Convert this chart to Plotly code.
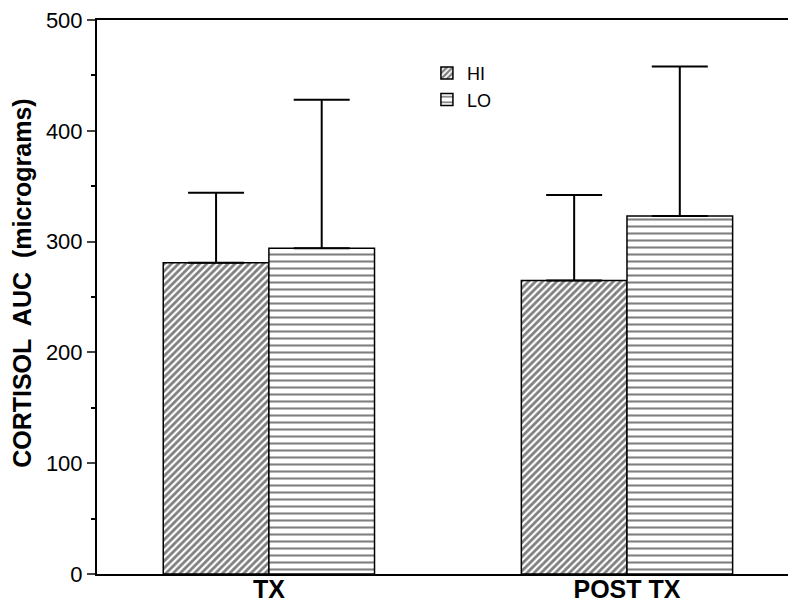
import plotly.graph_objects as go

categories = ["TX", "POST TX"]
hi_values = [281, 265]
lo_values = [294, 323]
hi_err = [63, 77]
lo_err = [134, 135]
y_ticks = [0, 100, 200, 300, 400, 500]

fig = go.Figure()
fig.add_trace(go.Bar(
    name="HI", x=categories, y=hi_values,
    marker=dict(color="white", line=dict(color="black", width=1.5),
                pattern=dict(shape="/", fgcolor="black", bgcolor="white", size=5, solidity=0.55)),
    error_y=dict(type="data", array=hi_err, arrayminus=[0, 0], symmetric=False,
                 color="black", thickness=2, width=28),
))
fig.add_trace(go.Bar(
    name="LO", x=categories, y=lo_values,
    marker=dict(color="white", line=dict(color="black", width=1.5),
                pattern=dict(shape="-", fgcolor="black", bgcolor="white", size=7, solidity=0.3)),
    error_y=dict(type="data", array=lo_err, arrayminus=[0, 0], symmetric=False,
                 color="black", thickness=2, width=28),
))

# page body adds an 8px margin; figure is sized/margined to compensate
fig.update_layout(
    width=788, height=597,
    margin=dict(l=89, r=0, t=12, b=31, autoexpand=False),
    paper_bgcolor="white", plot_bgcolor="white",
    barmode="group", bargap=0.41, bargroupgap=0,
    font=dict(family="Arial, Liberation Sans, sans-serif", color="black"),
    showlegend=True,
    legend=dict(x=0.472, y=0.937, xanchor="left", yanchor="top",
                bgcolor="rgba(0,0,0,0)", font=dict(size=18), tracegroupgap=0),
    xaxis=dict(range=[-0.48, 1.472], showline=True, linecolor="black", linewidth=2,
               mirror=True, ticks="", showgrid=False, automargin=False,
               ticklabelstandoff=-8, ticklabeloverflow="allow",
               tickfont=dict(size=25, weight="bold")),
    yaxis=dict(range=[0, 500], tickvals=y_ticks, showline=True, linecolor="black",
               linewidth=2, ticks="outside", ticklen=8, tickwidth=2, showgrid=False,
               zeroline=False, tickfont=dict(size=22), automargin=False,
               ticklabeloverflow="allow",
               minor=dict(dtick=50, ticks="outside", ticklen=4, tickwidth=1.5, tickcolor="black"),
               title=dict(text="&nbsp;&nbsp;&nbsp;&nbsp;CORTISOL  AUC  (micrograms)",
                          font=dict(size=25, weight="bold"), standoff=8)),
)

fig.write_html("out.html")
